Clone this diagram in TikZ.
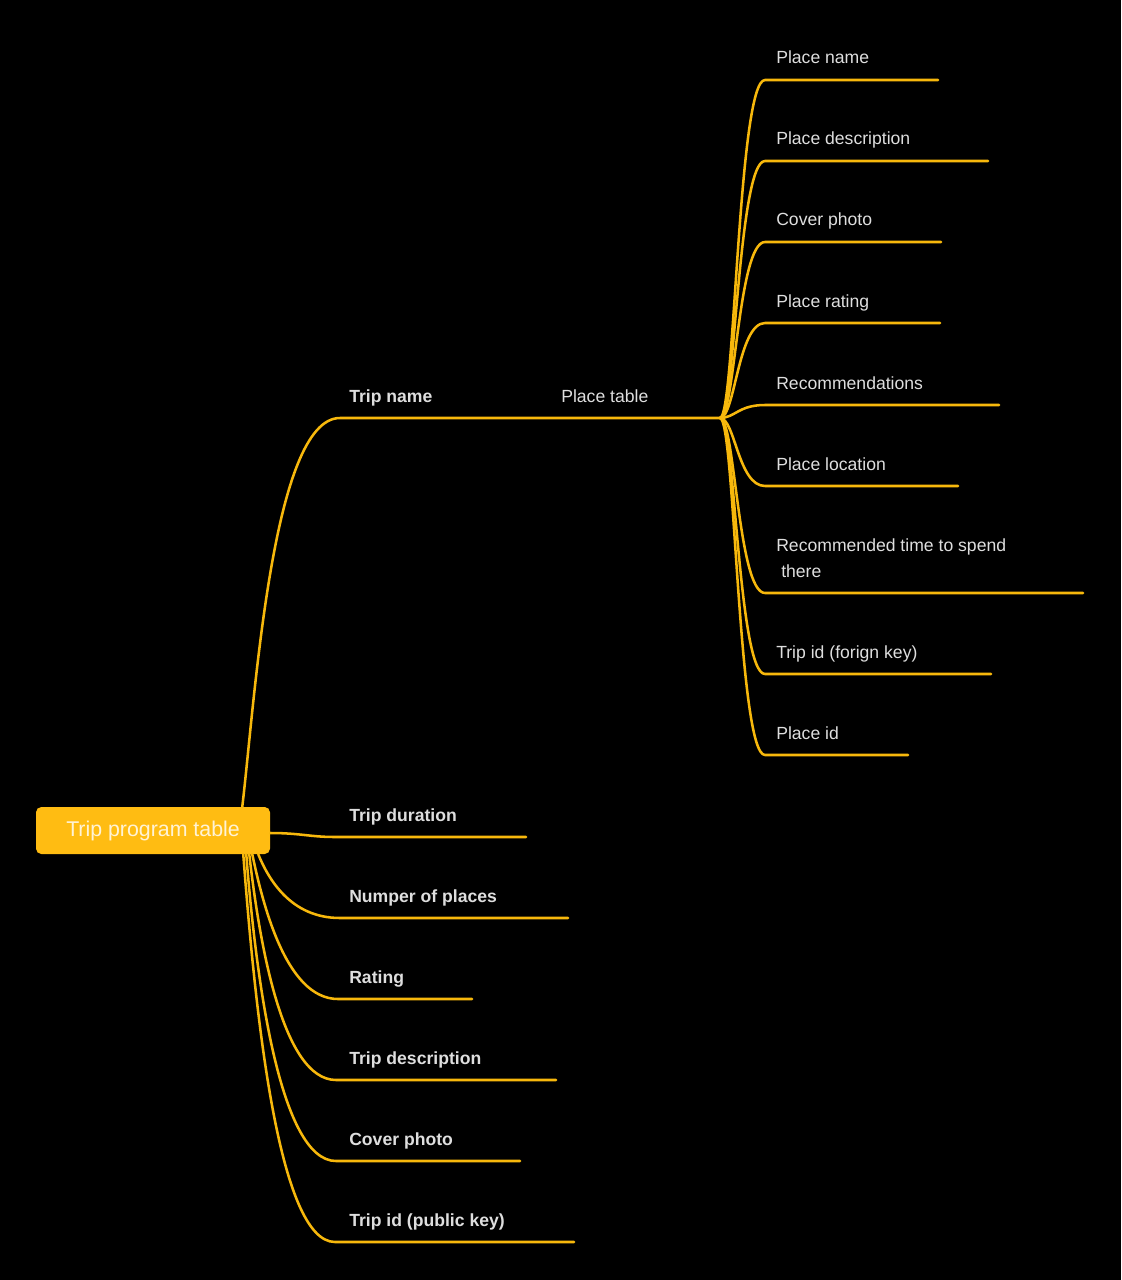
\documentclass[tikz,border=0pt]{standalone}
\usepackage{fontspec}
\setmainfont{Liberation Sans}
\usetikzlibrary{calc}
\definecolor{bg}{RGB}{0,0,0}
\definecolor{branch}{RGB}{247,184,12}
\definecolor{rootfill}{RGB}{255,188,18}
\definecolor{labelgray}{RGB}{222,222,222}
\definecolor{roottext}{RGB}{255,243,214}
\begin{document}
\begin{tikzpicture}[x=0.75pt,y=-0.75pt,
  link/.style={draw=branch,line width=1.9pt,line cap=round,line join=round},
  rbranch/.style={to path={.. controls ($(\tikztostart)+(15,0)$) and ($(\tikztotarget)+(-27,0)$) .. (\tikztotarget)}},
  field/.style={anchor=base west,inner sep=0pt,text=labelgray,font=\fontsize{13.2}{19.5}\selectfont},
  keyfield/.style={field,font=\fontsize{13.2}{19.5}\selectfont\bfseries},
  rootbox/.style={fill=rootfill,rounded corners=4pt,minimum width=175.5pt,minimum height=35.25pt,
    text=roottext,font=\fontsize{16}{19}\selectfont,inner sep=0pt}]
\fill[bg] (0,0) rectangle (1121,1280);
\useasboundingbox (0,0) rectangle (1121,1280);

% root table
\node[rootbox] (root) at (153,830.5) {Trip program table};

% fields of the trip program table
\coordinate (tns) at (340,418);
\coordinate (hub) at (720,418);
\node[keyfield] (tn) at (349,402) {Trip name};
\node[field] (pt) at (561,402) {Place table};

\coordinate (tds) at (335,837);  \coordinate (tde) at (526,837);
\node[keyfield] (td) at (349,821) {Trip duration};
\coordinate (nps) at (340,918);  \coordinate (npe) at (568,918);
\node[keyfield] (np) at (349,902) {Numper of places};
\coordinate (rts) at (338,999);  \coordinate (rte) at (472,999);
\node[keyfield] (rt) at (349,983) {Rating};
\coordinate (dss) at (336,1080); \coordinate (dse) at (556,1080);
\node[keyfield] (ds) at (349,1064) {Trip description};
\coordinate (cps) at (336,1161); \coordinate (cpe) at (520,1161);
\node[keyfield] (cp) at (349,1145) {Cover photo};
\coordinate (tis) at (335,1242); \coordinate (tie) at (574,1242);
\node[keyfield] (ti) at (349,1226) {Trip id (public key)};

\draw[link] ($(root.north east)+(-28,0)$) .. controls (255,700) and (272,418) .. (tns) -- (hub);
\draw[link] ($(root.east)+(0,2.5)$) .. controls (300,833) and (310,837) .. (tds) -- (tde);
\draw[link] ($(root.south east)+(-12,0)$) .. controls (268,878) and (290,918) .. (nps) -- (npe);
\draw[link] ($(root.south east)+(-18,0)$) .. controls (262,900) and (285,999) .. (rts) -- (rte);
\draw[link] ($(root.south east)+(-21,0)$) .. controls (259,940) and (282,1080) .. (dss) -- (dse);
\draw[link] ($(root.south east)+(-24,0)$) .. controls (256,980) and (280,1161) .. (cps) -- (cpe);
\draw[link] ($(root.south east)+(-27,0)$) .. controls (255,1009) and (278,1242) .. (tis) -- (tie);

% fields of the place table
\coordinate (p1s) at (765,80);  \coordinate (p1e) at (938,80);
\node[field] (p1) at (776,64) {Place name};
\coordinate (p2s) at (765,161); \coordinate (p2e) at (988,161);
\node[field] (p2) at (776,145) {Place description};
\coordinate (p3s) at (765,242); \coordinate (p3e) at (941,242);
\node[field] (p3) at (776,226) {Cover photo};
\coordinate (p4s) at (765,323); \coordinate (p4e) at (940,323);
\node[field] (p4) at (776,307) {Place rating};
\coordinate (p5s) at (765,405); \coordinate (p5e) at (999,405);
\node[field] (p5) at (776,389) {Recommendations};
\coordinate (p6s) at (765,486); \coordinate (p6e) at (958,486);
\node[field] (p6) at (776,470) {Place location};
\coordinate (p7s) at (765,593); \coordinate (p7e) at (1083,593);
\node[field,align=left] (p7) at (776,577) {Recommended time to spend\\ \hspace{3.75pt}there};
\coordinate (p8s) at (765,674); \coordinate (p8e) at (991,674);
\node[field] (p8) at (776,658) {Trip id (forign key)};
\coordinate (p9s) at (765,755); \coordinate (p9e) at (908,755);
\node[field] (p9) at (776,739) {Place id};

\foreach \i in {1,...,9}
  \draw[link] (hub) to[rbranch] (p\i s) -- (p\i e);
\end{tikzpicture}
\end{document}
